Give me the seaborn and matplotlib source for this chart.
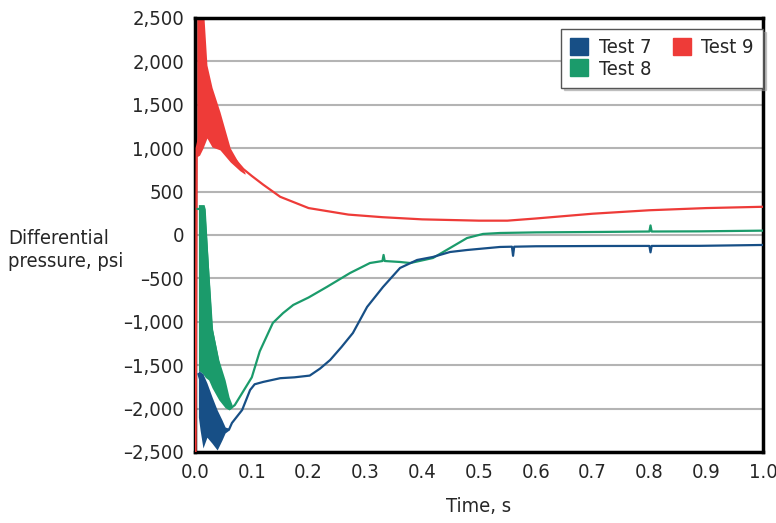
import matplotlib
matplotlib.use("Agg")
import matplotlib.pyplot as plt
import matplotlib.patches as mpatches
import pandas as pd
import seaborn as sns

# --- colours ---
blue = "#174f86"
green = "#1b9b6b"
red = "#ee3b38"

# --- Test 7 (blue) ---
t7_t = [0.006, 0.03, 0.053, 0.06, 0.065, 0.083, 0.097, 0.105, 0.12, 0.15,
        0.175, 0.202, 0.22, 0.238, 0.258, 0.278, 0.303, 0.331, 0.361, 0.391, 0.419,
        0.449, 0.479, 0.537, 0.558, 0.56, 0.562, 0.6, 0.713, 0.8, 0.802, 0.804, 0.889, 1.0]
t7_p = [-1600, -2100, -2250, -2240, -2166, -2016, -1786, -1720, -1693, -1650,
        -1640, -1620, -1540, -1440, -1290, -1129, -829, -599, -380, -288, -253,
        -196, -173, -138, -135, -240, -135, -130, -127, -126, -200, -126, -125, -115]
t7_band_t = [0.006, 0.009, 0.014, 0.021, 0.03, 0.039, 0.0475, 0.053, 0.06]
t7_band_hi = [-1560, -1575, -1600, -1705, -1866, -2016, -2131, -2212, -2230]
t7_band_lo = [-2100, -2250, -2454, -2330, -2400, -2477, -2362, -2281, -2247]

# --- Test 8 (green) ---
t8_t = [0.004, 0.016, 0.024, 0.03, 0.042, 0.053, 0.062, 0.07, 0.085, 0.1, 0.114, 0.137,
        0.155, 0.173, 0.2, 0.232, 0.273, 0.308, 0.33, 0.332, 0.334, 0.361, 0.379, 0.419,
        0.449, 0.479, 0.507, 0.537, 0.6, 0.713, 0.8, 0.802, 0.804, 0.889, 1.0]
t8_p = [300, 300, -500, -1100, -1500, -1800, -2000, -1960, -1800, -1640, -1340, -1014,
        -900, -806, -720, -599, -438, -323, -300, -230, -300, -311, -323, -265,
        -150, -35, 12, 23, 30, 35, 40, 110, 40, 42, 50]
t8_band_t = [0.006, 0.012, 0.016, 0.018, 0.024, 0.030, 0.042, 0.053, 0.060, 0.065]
t8_band_hi = [350, 350, 350, 300, -400, -1060, -1440, -1670, -1866, -1950]
t8_band_lo = [-1560, -1590, -1620, -1640, -1670, -1760, -1900, -1990, -2016, -1990]

# --- Test 9 (red) ---
t9_t = [0.001, 0.003, 0.02, 0.04, 0.06, 0.085, 0.1, 0.12, 0.15, 0.2, 0.27, 0.33, 0.4,
        0.5, 0.55, 0.6, 0.7, 0.8, 0.9, 1.0]
t9_p = [-2500, 1000, 1500, 1250, 950, 760, 680, 580, 440, 310, 235, 205, 180,
        165, 165, 190, 245, 285, 310, 325]
t9_band_t = [0.003, 0.008, 0.014, 0.021, 0.03, 0.044, 0.062, 0.079, 0.088]
t9_band_hi = [2700, 2700, 2700, 1958, 1700, 1417, 1002, 806, 720]
t9_band_lo = [900, 920, 1000, 1117, 1014, 980, 841, 740, 700]

y_ticks = [2500, 2000, 1500, 1000, 500, 0, -500, -1000, -1500, -2000, -2500]
y_labels = ["2,500", "2,000", "1,500", "1,000", "500", "0", "\u2013500", "\u20131,000",
            "\u20131,500", "\u20132,000", "\u20132,500"]
x_ticks = [0.0, 0.1, 0.2, 0.3, 0.4, 0.5, 0.6, 0.7, 0.8, 0.9, 1.0]

sns.set_style("white")
plt.rcParams['font.family'] = ['DejaVu Sans']
plt.rcParams['font.stretch'] = 'condensed'

fig = plt.figure(figsize=(7.76, 5.23), dpi=100)
ax = fig.add_axes([0.2513, 0.1358, 0.7319, 0.8298])

for t, p, bt, hi, lo, col in [
    (t9_t, t9_p, t9_band_t, t9_band_hi, t9_band_lo, red),
    (t8_t, t8_p, t8_band_t, t8_band_hi, t8_band_lo, green),
    (t7_t, t7_p, t7_band_t, t7_band_hi, t7_band_lo, blue),
]:
    ax.fill_between(bt, lo, hi, color=col, lw=0, zorder=2)
    df = pd.DataFrame({"t": t, "p": p})
    sns.lineplot(data=df, x="t", y="p", ax=ax, color=col, lw=1.6,
                 estimator=None, sort=False, zorder=3)

ax.set_xlim(0, 1.0)
ax.set_ylim(-2500, 2500)
ax.set_yticks(y_ticks)
ax.set_yticklabels(y_labels)
ax.set_xticks(x_ticks)
ax.set_xticklabels([f"{v:.1f}" for v in x_ticks])
ax.tick_params(length=0, labelsize=14.5, pad=8)
ax.grid(axis="y", color="#b4b4b4", lw=1.5, zorder=1)
ax.set_axisbelow(True)
for s in ax.spines.values():
    s.set_color("black")
    s.set_linewidth(2.5)

ax.set_xlabel("Time, s", fontsize=14.5, labelpad=11)
ax.set_ylabel("")
fig.text(8 / 776, 0.522, "Differential\npressure, psi", fontsize=14.5,
         ha="left", va="center", linespacing=1.3)

handles = [mpatches.Patch(color=blue, label="Test 7"),
           mpatches.Patch(color=green, label="Test 8"),
           mpatches.Patch(color=red, label="Test 9")]
leg = ax.legend(handles=handles, ncol=2, loc="upper right", bbox_to_anchor=(1.0, 0.975),
                borderaxespad=0, fontsize=14.5, handlelength=0.9, handleheight=0.9,
                handletextpad=0.5, columnspacing=1.1, labelspacing=0.1,
                frameon=True, fancybox=False, shadow={"ox": 2, "oy": -2, "color": "#999999"},
                borderpad=0.45)
leg.get_frame().set_edgecolor("#555555")
leg.get_frame().set_linewidth(1.0)

fig.savefig("out.png", dpi=100)
